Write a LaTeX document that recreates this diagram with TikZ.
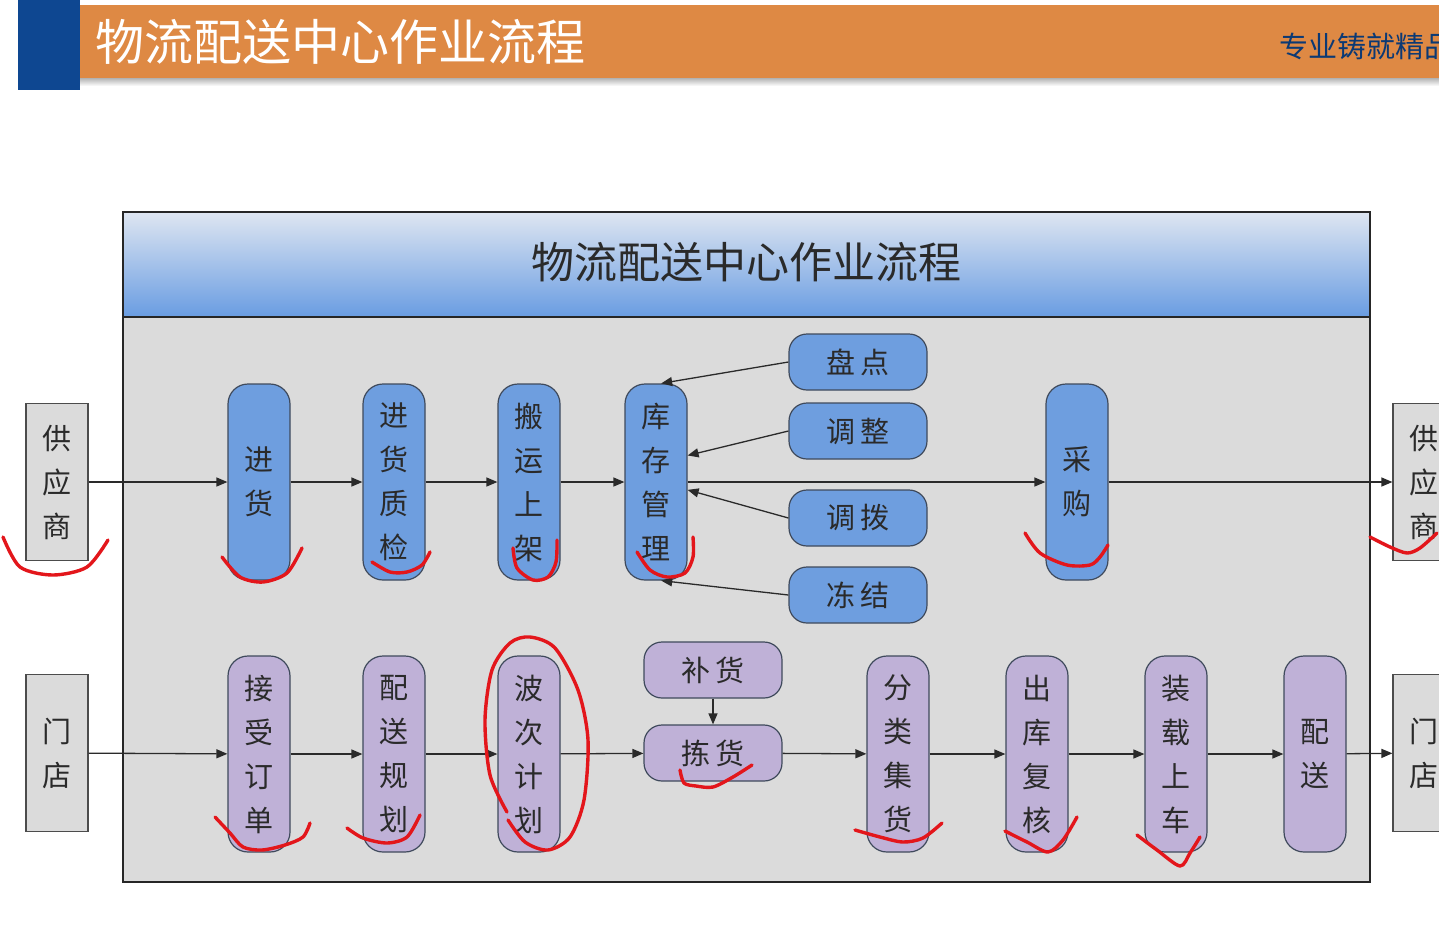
\documentclass[tikz,border=0pt]{standalone}
\usepackage{fontspec}
\newfontfamily\cjk{Noto Sans CJK SC}
\usetikzlibrary{arrows.meta}
\definecolor{bannerorange}{HTML}{DE8944}
\definecolor{bannerblue}{HTML}{0E4791}
\definecolor{headtop}{HTML}{DDE5F1}
\definecolor{headbottom}{HTML}{6A9DE2}
\definecolor{panelgray}{HTML}{DBDBDB}
\definecolor{flowblue}{HTML}{6E9EDF}
\definecolor{flowpurple}{HTML}{BFB1D7}
\definecolor{boxline}{HTML}{3F4A5C}
\definecolor{textdark}{HTML}{2A2A2A}
\definecolor{penred}{HTML}{E3161B}
\tikzset{
	flowbox/.style={draw=boxline,line width=1.2pt,rounded corners=20pt,minimum width=62pt,minimum height=196pt,inner sep=0pt,align=center,text=textdark,font=\cjk\fontsize{29}{44}\selectfont},
	bluebox/.style={flowbox,fill=flowblue},
	purplebox/.style={flowbox,fill=flowpurple},
	sidebox/.style={flowbox,rounded corners=18pt,minimum width=138pt,minimum height=56pt},
	endbox/.style={draw=gray!60!black,line width=1.2pt,fill=panelgray,minimum width=62pt,minimum height=157pt,inner sep=0pt,align=center,text=textdark,font=\cjk\fontsize{29}{44}\selectfont},
	flow/.style={->,line width=1.3pt,draw=textdark},
	redmark/.style={penred,line width=3.4pt,line cap=round,line join=round}
}
\begin{document}
\begin{tikzpicture}[x=1pt,y=-1pt,>={Triangle[length=11pt,width=9pt]}]
		\useasboundingbox[fill=white] (0,0) rectangle (1439,940);
		\fill[bannerorange] (80,5) rectangle (1439,78);
		\shade[top color=gray!60,bottom color=white] (80,78) rectangle (1439,86);
		\fill[bannerblue] (18,0) rectangle (80,90);
		\node[anchor=west,text=white,font=\cjk\fontsize{49}{49}\selectfont] (banner) at (92,42) {物流配送中心作业流程};
		\node[anchor=west,text=bannerblue!80!black,font=\cjk\fontsize{29}{29}\selectfont] (motto) at (1276,46) {专业铸就精品};
		\draw[fill=panelgray,draw=gray!40!black,line width=1.5pt] (123,212) rectangle (1370,882);
		\shade[top color=headtop,bottom color=headbottom] (124,213) rectangle (1369,316);
		\draw[gray!30!black,line width=1.5pt] (123,212) rectangle (1370,882) (123,317) -- (1370,317);
		\node[text=textdark,font=\cjk\fontsize{43}{43}\selectfont] (head) at (746,262) {物流配送中心作业流程};
		\node[endbox] (sup1) at (57,482) {供\\应\\商};
		\node[endbox] (sup2) at (1424,482) {供\\应\\商};
		\node[endbox] (md1) at (57,753) {门\\店};
		\node[endbox] (md2) at (1424,753) {门\\店};
		\node[bluebox] (jh) at (259,482) {进\\货};
		\node[bluebox] (zj) at (394,482) {进\\货\\质\\检};
		\node[bluebox] (by) at (529,482) {搬\\运\\上\\架};
		\node[bluebox] (kc) at (656,482) {库\\存\\管\\理};
		\node[bluebox] (cg) at (1077,482) {采\\购};
		\node[sidebox,fill=flowblue] (pd) at (858,362) {盘\hspace{6pt}点};
		\node[sidebox,fill=flowblue] (tz) at (858,431) {调\hspace{6pt}整};
		\node[sidebox,fill=flowblue] (tb) at (858,518) {调\hspace{6pt}拨};
		\node[sidebox,fill=flowblue] (dj) at (858,595) {冻\hspace{6pt}结};
		\node[purplebox] (jd) at (259,754) {接\\受\\订\\单};
		\node[purplebox] (ps) at (394,754) {配\\送\\规\\划};
		\node[purplebox] (bc) at (529,754) {波\\次\\计\\划};
		\node[sidebox,fill=flowpurple] (bh) at (713,670) {补\hspace{6pt}货};
		\node[sidebox,fill=flowpurple] (jianh) at (713,753) {拣\hspace{6pt}货};
		\node[purplebox] (fl) at (898,754) {分\\类\\集\\货};
		\node[purplebox] (ck) at (1037,754) {出\\库\\复\\核};
		\node[purplebox] (zz) at (1176,754) {装\\载\\上\\车};
		\node[purplebox] (pei) at (1315,754) {配\\送};
		\draw[flow] (sup1) -- (jh);
		\draw[flow] (jh) -- (zj);
		\draw[flow] (zj) -- (by);
		\draw[flow] (by) -- (kc);
		\draw[flow] (kc) -- (cg);
		\draw[flow] (cg) -- (sup2);
		\draw[flow] (pd.west) -- (kc.87);
		\draw[flow] (tz.west) -- (kc.40);
		\draw[flow] (tb.west) -- (kc.-14);
		\draw[flow] (dj.west) -- (kc.-87);
		\draw[flow] (md1) -- (jd);
		\draw[flow] (jd) -- (ps);
		\draw[flow] (ps) -- (bc);
		\draw[flow] (bc) -- (jianh);
		\draw[flow] (bh) -- (jianh);
		\draw[flow] (jianh) -- (fl);
		\draw[flow] (fl) -- (ck);
		\draw[flow] (ck) -- (zz);
		\draw[flow] (zz) -- (pei);
		\draw[flow] (pei) -- (md2);
		\draw[redmark] plot[smooth] coordinates {(3,537) (20,567) (53,575) (87,567) (108,540)};
		\draw[redmark] plot[smooth] coordinates {(222,557) (240,577) (263,582) (287,573) (302,548)};
		\draw[redmark] plot[smooth] coordinates {(372,562) (390,572) (407,572) (422,565) (430,552)};
		\draw[redmark] plot[smooth] coordinates {(513,548) (517,568) (533,580) (548,577) (556,562) (557,540)};
		\draw[redmark] plot[smooth] coordinates {(637,552) (650,570) (667,577) (685,573) (693,557) (693,537)};
		\draw[redmark] plot[smooth] coordinates {(1025,533) (1040,553) (1067,565) (1090,565) (1100,557) (1108,545)};
		\draw[redmark] plot[smooth] coordinates {(1370,537) (1390,547) (1407,553) (1420,548) (1437,533)};
		\draw[redmark] plot[smooth] coordinates {(215,817) (230,833) (243,847) (262,850) (285,845) (303,837) (310,823)};
		\draw[redmark] plot[smooth] coordinates {(347,828) (363,838) (387,843) (407,837) (420,815)};
		\draw[redmark] plot[smooth] coordinates {(507,812) (490,775) (485,720) (492,670) (510,643) (530,637) (555,648) (578,690) (588,740) (584,800) (570,837) (548,850) (525,842) (508,820)};
		\draw[redmark] plot[smooth] coordinates {(680,770) (684,783) (696,786) (713,787) (733,777) (752,765)};
		\draw[redmark] plot[smooth] coordinates {(855,830) (880,837) (903,842) (923,838) (942,823)};
		\draw[redmark] plot[smooth] coordinates {(1005,831) (1027,842) (1048,852) (1063,840) (1077,817)};
		\draw[redmark] plot[smooth] coordinates {(1137,835) (1157,850) (1180,866) (1190,853) (1200,837)};
\end{tikzpicture}
\end{document}
